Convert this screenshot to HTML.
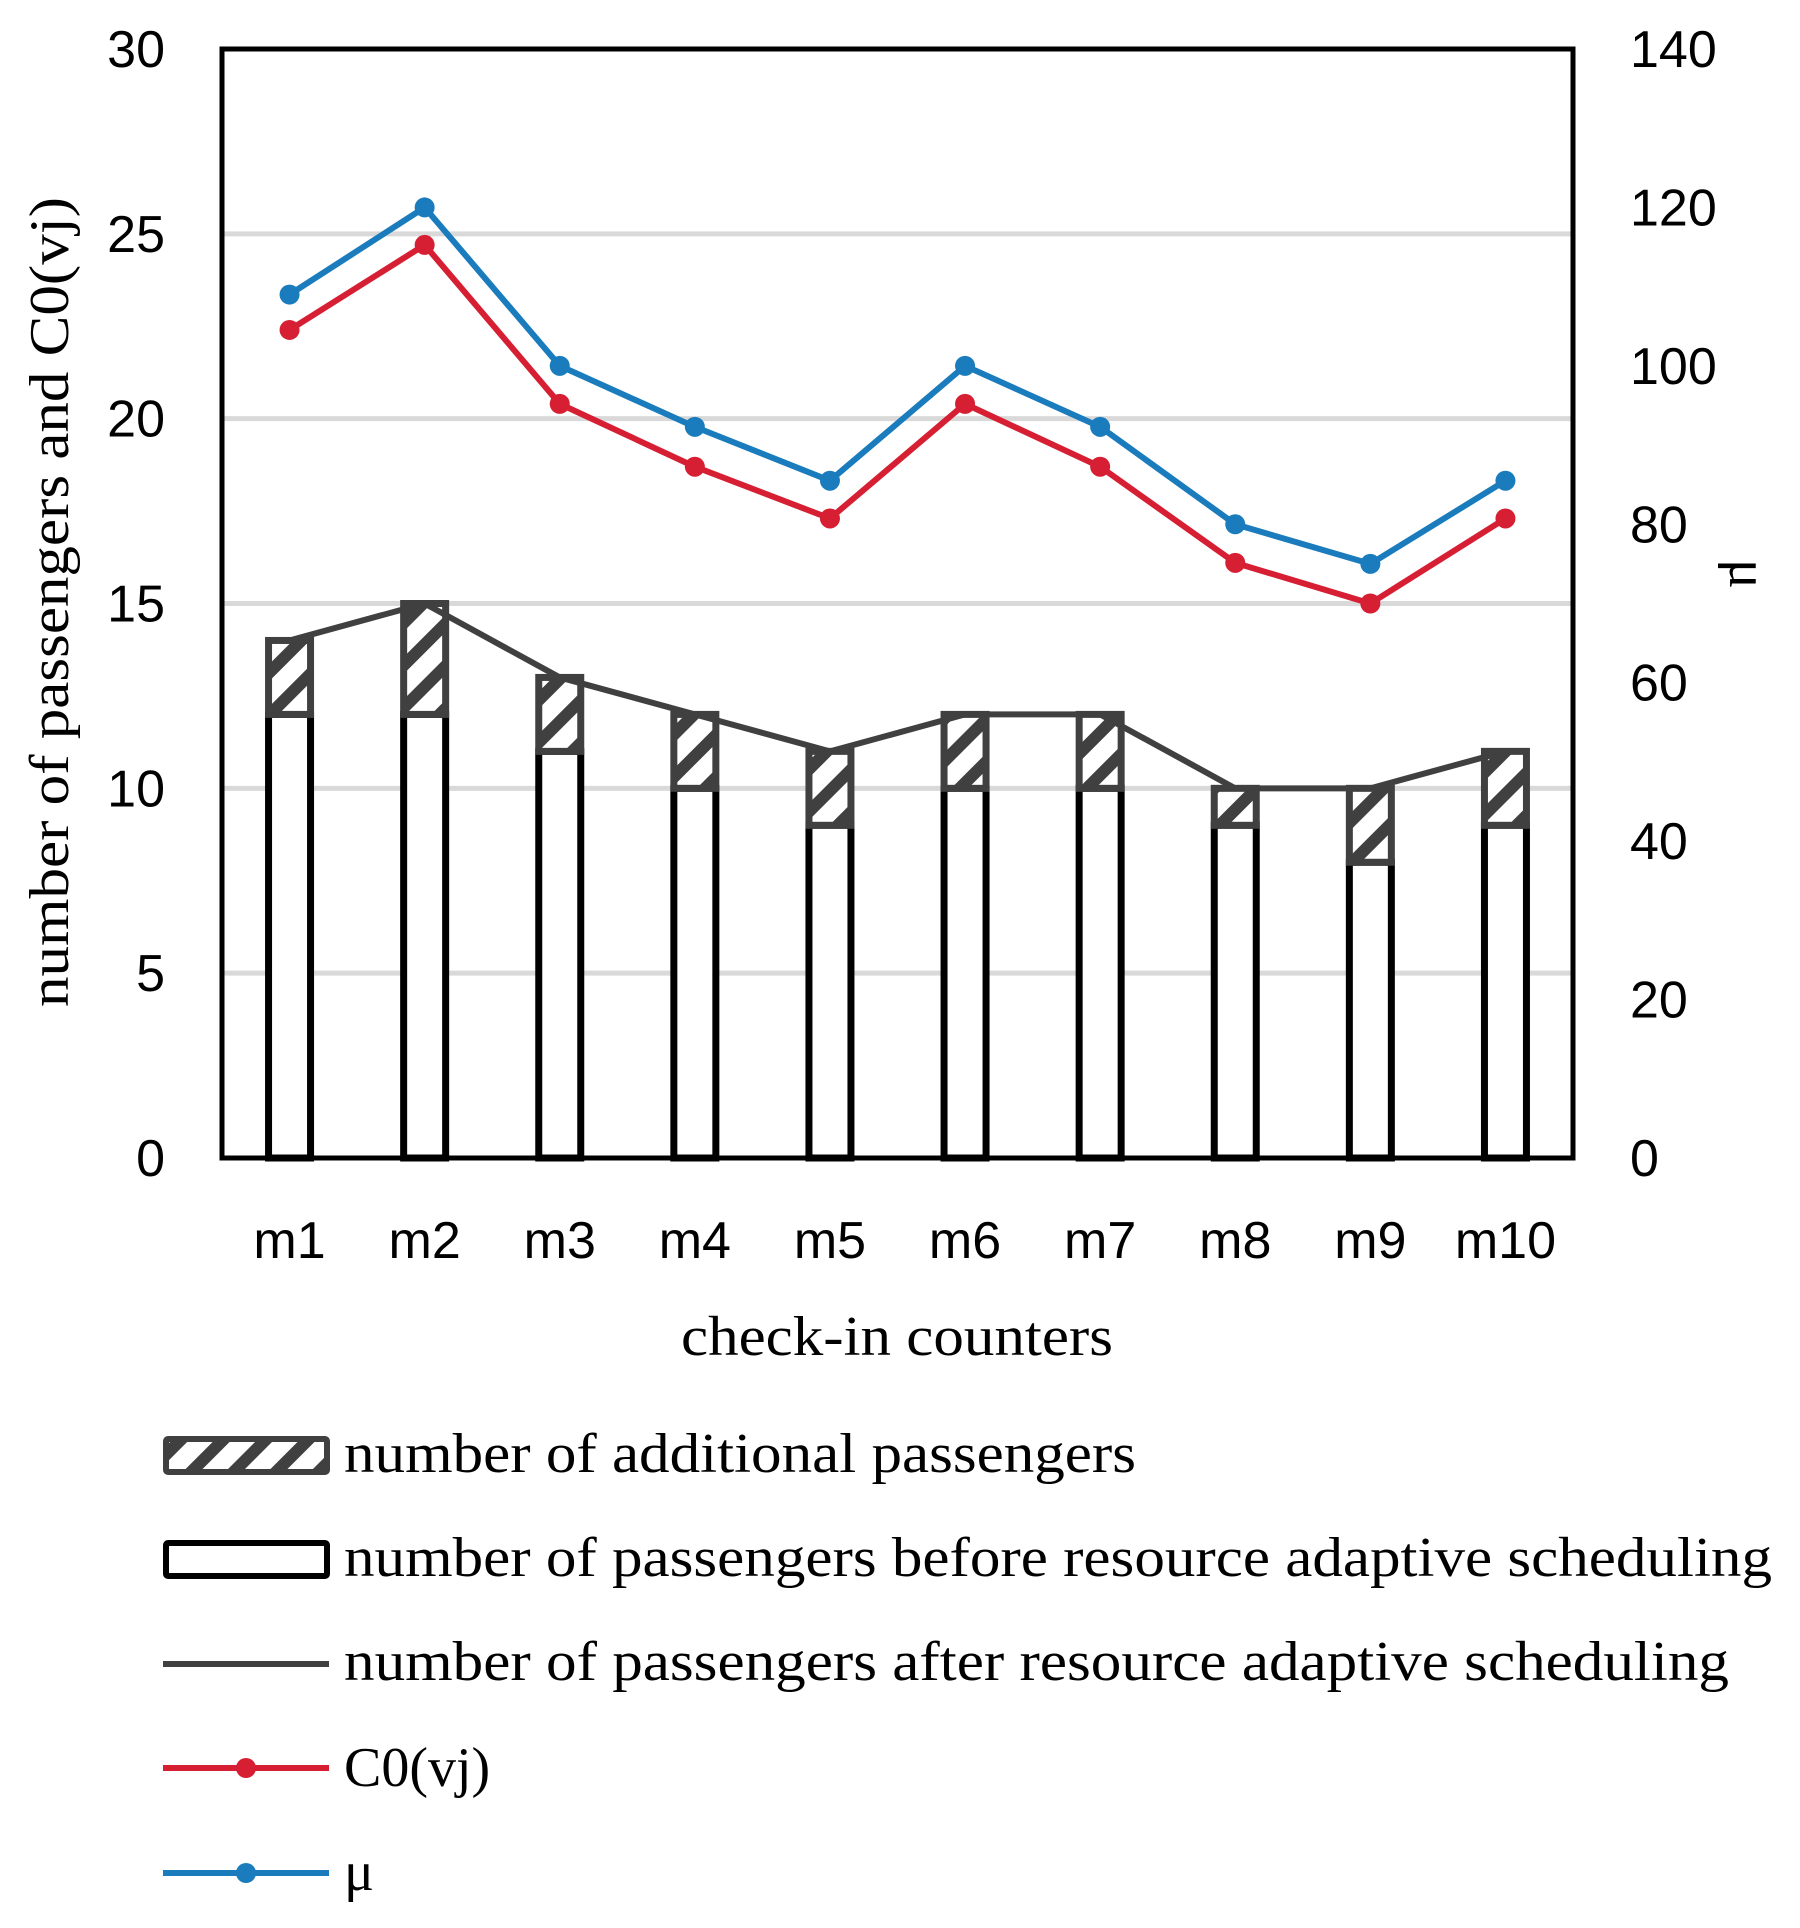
<!DOCTYPE html>
<html><head><meta charset="utf-8"><style>
html,body{margin:0;padding:0;background:#fff}
svg{display:block}
.tk{font-family:"Liberation Sans",sans-serif;font-size:52px;fill:#000}
.sf{font-family:"Liberation Serif",serif;font-size:56px;fill:#000}
</style></head><body>
<svg id="chart" width="1800" height="1928" viewBox="0 0 1800 1928" xmlns="http://www.w3.org/2000/svg">
<defs>
<pattern id="hatch" patternUnits="userSpaceOnUse" width="30" height="30" patternTransform="rotate(-45)">
<rect width="30" height="30" fill="#fff"/><rect width="30" height="12" fill="#404040"/>
</pattern>
</defs>
<g id="grid"></g>
<g id="bars"></g>
<g id="lines"></g>
<rect x="222" y="49" width="1351" height="1109" fill="none" stroke="#000" stroke-width="5"/>
<g id="ticks"></g>
<text class="sf" x="897" y="1355" text-anchor="middle" textLength="432" lengthAdjust="spacingAndGlyphs">check-in counters</text>
<text class="sf" transform="translate(68,602) rotate(-90)" text-anchor="middle" textLength="810" lengthAdjust="spacingAndGlyphs">number of passengers and C0(vj)</text>
<text class="sf" transform="translate(1730,574) rotate(90)" text-anchor="middle">μ</text>
<g>
<g>
<rect x="166" y="1439" width="161" height="33" fill="url(#hatch)" stroke="#404040" stroke-width="6" rx="2"/>
<text class="sf" x="344" y="1472" textLength="792" lengthAdjust="spacingAndGlyphs">number of additional passengers</text></g>
<g>
<rect x="166" y="1543" width="161" height="33" fill="#fff" stroke="#000" stroke-width="6" rx="2"/>
<text class="sf" x="344" y="1576" textLength="1428" lengthAdjust="spacingAndGlyphs">number of passengers before resource adaptive scheduling</text></g>
<g>
<line x1="163" y1="1664" x2="329" y2="1664" stroke="#404040" stroke-width="6"/>
<text class="sf" x="344" y="1680" textLength="1385" lengthAdjust="spacingAndGlyphs">number of passengers after resource adaptive scheduling</text></g>
<g>
<line x1="163" y1="1768" x2="329" y2="1768" stroke="#d71f34" stroke-width="6"/>
<circle cx="246" cy="1768" r="10" fill="#d71f34"/>
<text class="sf" x="344" y="1786">C0(vj)</text></g>
<g>
<line x1="163" y1="1873" x2="329" y2="1873" stroke="#1a7cbc" stroke-width="6"/>
<circle cx="246" cy="1873" r="10" fill="#1a7cbc"/>
<text class="sf" x="344" y="1890">μ</text></g>
</g>
</svg>
<script>
const categories=["m1","m2","m3","m4","m5","m6","m7","m8","m9","m10"];
const before=[12,12,11,10,9,10,10,9,8,9];
const after=[14,15,13,12,11,12,12,10,10,11];
const c0=[22.4,24.7,20.4,18.7,17.3,20.4,18.7,16.1,15.0,17.3];
const mu=[109,120,100,92.3,85.5,100,92.3,80,75,85.5];
const leftTicks=[0,5,10,15,20,25,30];
const rightTicks=[0,20,40,60,80,100,120,140];
const NS="http://www.w3.org/2000/svg";
const L=222,R=1573,T=49,B=1158;
const bw=(R-L)/categories.length;
function x(i){return L+bw*(i+0.5);}
function y(v){return B-(B-T)*v/30;}
function y2(v){return B-(B-T)*v/140;}
function mk(tag,parent,attrs){const e=document.createElementNS(NS,tag);for(const k in attrs)e.setAttribute(k,attrs[k]);parent.appendChild(e);return e;}
const grid=document.getElementById('grid'),bars=document.getElementById('bars'),lines=document.getElementById('lines'),ticks=document.getElementById('ticks');
leftTicks.forEach(t=>{
 if(t>0&&t<30){const g=mk('line',grid,{x1:L,x2:R,y1:y(t),y2:y(t),stroke:'#d9d9d9','stroke-width':5});
 
 }
 const tx=mk('text',ticks,{x:165,y:y(t)+18,'text-anchor':'end',class:'tk'});tx.textContent=t;
 
 
});
rightTicks.forEach(t=>{const tx=mk('text',ticks,{x:1630,y:y2(t)+18,class:'tk'});tx.textContent=t;
 
 });
categories.forEach((c,i)=>{
 const tx=mk('text',ticks,{x:x(i),y:1258,'text-anchor':'middle',class:'tk'});tx.textContent=c;
 
 
 const w=42;
 const b=mk('rect',bars,{x:x(i)-w/2,y:y(before[i]),width:w,height:B-y(before[i]),fill:'#fff',stroke:'#000','stroke-width':7});
 
 
 const add=after[i]-before[i];
 if(add>0){const h=mk('rect',bars,{x:x(i)-w/2,y:y(after[i]),width:w,height:y(before[i])-y(after[i]),fill:'url(#hatch)',stroke:'#404040','stroke-width':7});
 
 }
});
function poly(vals,fy,color,name,dots){
 const p=mk('polyline',lines,{points:vals.map((v,i)=>x(i)+','+fy(v)).join(' '),fill:'none',stroke:color,'stroke-width':6,'stroke-linejoin':'round'});
 
 
 if(dots)vals.forEach((v,i)=>{const c=mk('circle',lines,{cx:x(i),cy:fy(v),r:10,fill:color});
 
 });
}
poly(after,y,'#404040','after',false);
poly(c0,y,'#d71f34','c0',true);
poly(mu,y2,'#1a7cbc','mu',true);
</script>
</body></html>
